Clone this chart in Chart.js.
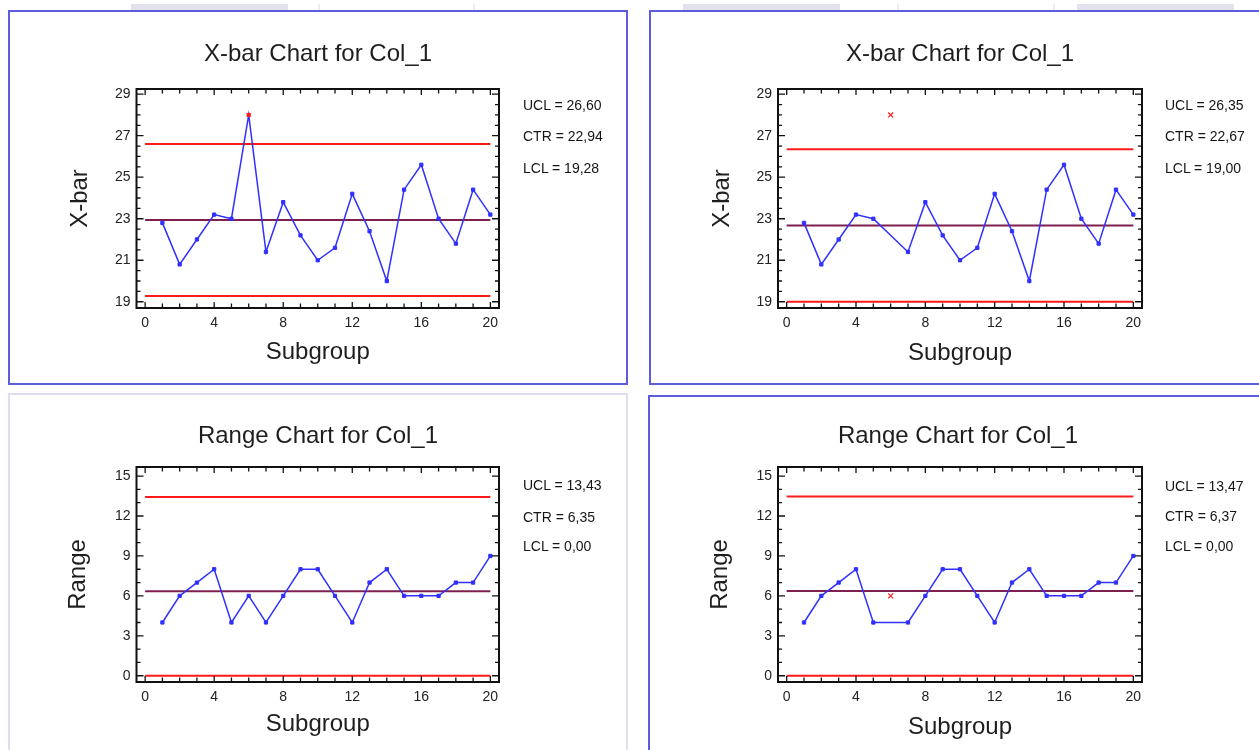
<!DOCTYPE html>
<html>
<head>
<meta charset="utf-8">
<script src="https://cdn.jsdelivr.net/npm/chart.js@4.4.0/dist/chart.umd.min.js"></script>
<style>
html,body{margin:0;padding:0;background:#fff;width:1259px;height:750px;overflow:hidden;position:relative;font-family:"Liberation Sans",Arial,sans-serif;}
.panel{position:absolute;box-sizing:border-box;border:2px solid #5d5ddc;}
.panel.light{border-color:#dedef0;}
canvas{position:absolute;}
.title{position:absolute;width:400px;text-align:center;font-size:24px;line-height:24px;color:#1e1e1e;white-space:nowrap;}
.stat{position:absolute;font-size:14px;line-height:14px;color:#151515;white-space:nowrap;}
.tab{position:absolute;top:4px;height:6px;background:#e2e2ee;}
.tabline{position:absolute;top:4px;height:6px;width:2px;background:#ececf4;}
</style>
</head>
<body>
<div class="tab" style="left:131px;width:157px"></div>
<div class="tabline" style="left:318px"></div>
<div class="tabline" style="left:473px"></div>
<div class="tab" style="left:683px;width:157px"></div>
<div class="tabline" style="left:897px"></div>
<div class="tabline" style="left:1053px"></div>
<div class="tab" style="left:1077px;width:157px"></div>

<div class="panel" style="left:8px;top:10px;width:620px;height:375px"></div>
<div class="panel" style="left:649px;top:10px;width:700px;height:375px"></div>
<div class="panel light" style="left:8px;top:393px;width:620px;height:420px"></div>
<div class="panel" style="left:648px;top:395px;width:700px;height:420px"></div>

<canvas id="c1" width="615" height="370" style="left:10px;top:12px;width:615px;height:370px"></canvas>
<canvas id="c2" width="607" height="370" style="left:652px;top:12px;width:607px;height:370px"></canvas>
<canvas id="c3" width="615" height="355" style="left:10px;top:395px;width:615px;height:355px"></canvas>
<canvas id="c4" width="607" height="353" style="left:652px;top:397px;width:607px;height:353px"></canvas>

<script>
// ---------------- DATA ----------------
const subgroups   = [1,2,3,4,5,6,7,8,9,10,11,12,13,14,15,16,17,18,19,20];
const xbarValues  = [22.8,20.8,22.0,23.2,23.0,28.0,21.4,23.8,22.2,21.0,21.6,24.2,22.4,20.0,24.4,25.6,23.0,21.8,24.4,23.2];
const rangeValues = [4,6,7,8,4,6,4,6,8,8,6,4,7,8,6,6,6,7,7,9];
const excludedSubgroups = [6];

const xTickValues     = [0,4,8,12,16,20];
const xbarTickValues  = [19,21,23,25,27,29];
const rangeTickValues = [0,3,6,9,12,15];

const limitNames       = ['UCL','CTR','LCL'];
const xbarLimitsAll    = [26.60, 22.94, 19.28];
const xbarLimitsExcl   = [26.35, 22.67, 19.00];
const rangeLimitsAll   = [13.43, 6.35, 0.00];
const rangeLimitsExcl  = [13.47, 6.37, 0.00];

const chartTitles = ['X-bar Chart for Col_1','X-bar Chart for Col_1','Range Chart for Col_1','Range Chart for Col_1'];
const yTitles     = ['X-bar','X-bar','Range','Range'];
const xTitle      = 'Subgroup';

// ---------------- STYLE / LAYOUT ----------------
const RED = '#ff1a1a', CTRC = '#7d2050', BLUE = '#3030ff';

const panels = [
  {id:'c1', values:xbarValues,  limits:xbarLimitsAll,   exclude:false, yTicks:xbarTickValues,  yMin:18.7, yMax:29.25, yMinor:0.5,
   pad:{left:56, right:126, top:77, bottom:15.6}, yW:70.5, xH:58.4,
   title:{cx:318, cy:53}, stat:{x:523, cy:[104.5,136,168]}},
  {id:'c2', values:xbarValues,  limits:xbarLimitsExcl,  exclude:true,  yTicks:xbarTickValues,  yMin:18.7, yMax:29.25, yMinor:0.5,
   pad:{left:55.6, right:117, top:77, bottom:14.6}, yW:70.4, xH:59.4,
   title:{cx:960, cy:53}, stat:{x:1165, cy:[104.5,136,168]}},
  {id:'c3', values:rangeValues, limits:rangeLimitsAll,  exclude:false, yTicks:rangeTickValues, yMin:-0.47, yMax:15.68, yMinor:1,
   pad:{left:53.6, right:126, top:72, bottom:11.6}, yW:72.9, xH:56.4,
   title:{cx:318, cy:435}, stat:{x:523, cy:[485,516.5,545.5]}},
  {id:'c4', values:rangeValues, limits:rangeLimitsExcl, exclude:true,  yTicks:rangeTickValues, yMin:-0.47, yMax:15.68, yMinor:1,
   pad:{left:53.6, right:117, top:70, bottom:8.6}, yW:72.4, xH:59.4,
   title:{cx:958, cy:435}, stat:{x:1165, cy:[486,516,546]}}
];

const fmt = v => v.toFixed(2).replace('.', ',');

// HTML text: titles and limit annotations
panels.forEach((p, i) => {
  const t = document.createElement('div');
  t.className = 'title';
  t.textContent = chartTitles[i];
  t.style.left = (p.title.cx - 200) + 'px';
  t.style.top = (p.title.cy - 12) + 'px';
  document.body.appendChild(t);
  limitNames.forEach((n, k) => {
    const s = document.createElement('div');
    s.className = 'stat';
    s.textContent = n + ' = ' + fmt(p.limits[k]);
    s.style.left = p.stat.x + 'px';
    s.style.top = (p.stat.cy[k] - 7) + 'px';
    document.body.appendChild(s);
  });
});

// plugin: frame with inward ticks on all four sides
const frameTicks = {
  id: 'frameTicks',
  afterDraw(chart, args, opts) {
    const {ctx, chartArea: a, scales: {x, y}} = chart;
    ctx.save();
    ctx.strokeStyle = '#111';
    ctx.lineWidth = 1.3;
    ctx.beginPath();
    const xMaj = x.ticks.map(t => t.value), yMaj = y.ticks.map(t => t.value);
    const eps = 1e-6;
    for (let v = Math.ceil(x.min / opts.xMinor) * opts.xMinor; v <= x.max + eps; v += opts.xMinor) {
      const px = x.getPixelForValue(v);
      const len = xMaj.some(m => Math.abs(m - v) < eps) ? 6 : 4.5;
      ctx.moveTo(px, a.bottom); ctx.lineTo(px, a.bottom - len);
      ctx.moveTo(px, a.top); ctx.lineTo(px, a.top + len);
    }
    for (let v = Math.ceil(y.min / opts.yMinor) * opts.yMinor; v <= y.max + eps; v += opts.yMinor) {
      const py = y.getPixelForValue(v);
      const len = yMaj.some(m => Math.abs(m - v) < eps) ? 7 : 4;
      ctx.moveTo(a.left, py); ctx.lineTo(a.left + len, py);
      ctx.moveTo(a.right, py); ctx.lineTo(a.right - len, py);
    }
    ctx.stroke();
    ctx.lineWidth = 2;
    ctx.strokeRect(a.left, a.top, a.right - a.left, a.bottom - a.top);
    ctx.restore();
  }
};

panels.forEach((p, i) => {
  const [ucl, ctr, lcl] = p.limits;
  const xFirst = xTickValues[0], xLast = xTickValues[xTickValues.length - 1];
  const kept = [], excl = [];
  subgroups.forEach((s, k) => {
    const pt = {x: s, y: p.values[k]};
    if (p.exclude && excludedSubgroups.includes(s)) excl.push(pt); else kept.push(pt);
  });
  const ptColors = kept.map(pt => (pt.y > ucl || pt.y < lcl) ? RED : BLUE);
  const hline = (v, c) => ({data: [{x: xFirst, y: v}, {x: xLast, y: v}], borderColor: c, borderWidth: 2,
                            pointRadius: 0, showLine: true, fill: false, tension: 0});
  const datasets = [
    {data: kept, borderColor: BLUE, borderWidth: 1.5, showLine: true, tension: 0,
     pointStyle: 'rect', pointRadius: 2.3, pointBackgroundColor: ptColors, pointBorderColor: ptColors, pointBorderWidth: 1},
  ];
  if (excl.length) datasets.push({data: excl, showLine: false, pointStyle: 'crossRot', pointRadius: 3.5,
                                  pointBorderColor: RED, pointBorderWidth: 1.2, borderColor: RED});
  datasets.push(hline(ctr, CTRC), hline(ucl, RED), hline(lcl, RED));

  new Chart(document.getElementById(p.id), {
    type: 'scatter',
    data: {datasets},
    options: {
      responsive: false, animation: false, devicePixelRatio: 1,
      layout: {padding: p.pad},
      plugins: {legend: {display: false}, tooltip: {enabled: false}, title: {display: false},
                frameTicks: {xMinor: 1, yMinor: p.yMinor}},
      scales: {
        x: {type: 'linear', position: 'bottom', min: -0.5, max: 20.5,
            afterBuildTicks: s => { s.ticks = xTickValues.map(v => ({value: v})); },
            afterFit: s => { s.height = p.xH; },
            ticks: {autoSkip: false, maxRotation: 0, padding: 7, color: '#222',
                    font: {family: '"Liberation Sans", Arial, sans-serif', size: 14}},
            grid: {display: false, drawTicks: false}, border: {display: false},
            title: {display: true, text: xTitle, color: '#1e1e1e', padding: 0,
                    font: {family: '"Liberation Sans", Arial, sans-serif', size: 24}}},
        y: {type: 'linear', position: 'left', min: p.yMin, max: p.yMax,
            afterBuildTicks: s => { s.ticks = p.yTicks.map(v => ({value: v})); },
            afterFit: s => { s.width = p.yW; },
            ticks: {autoSkip: false, padding: 6, color: '#222',
                    font: {family: '"Liberation Sans", Arial, sans-serif', size: 14}},
            grid: {display: false, drawTicks: false}, border: {display: false},
            title: {display: true, text: yTitles[i], color: '#1e1e1e', padding: 0,
                    font: {family: '"Liberation Sans", Arial, sans-serif', size: 24}}}
      }
    },
    plugins: [frameTicks]
  });
});
</script>
</body>
</html>
